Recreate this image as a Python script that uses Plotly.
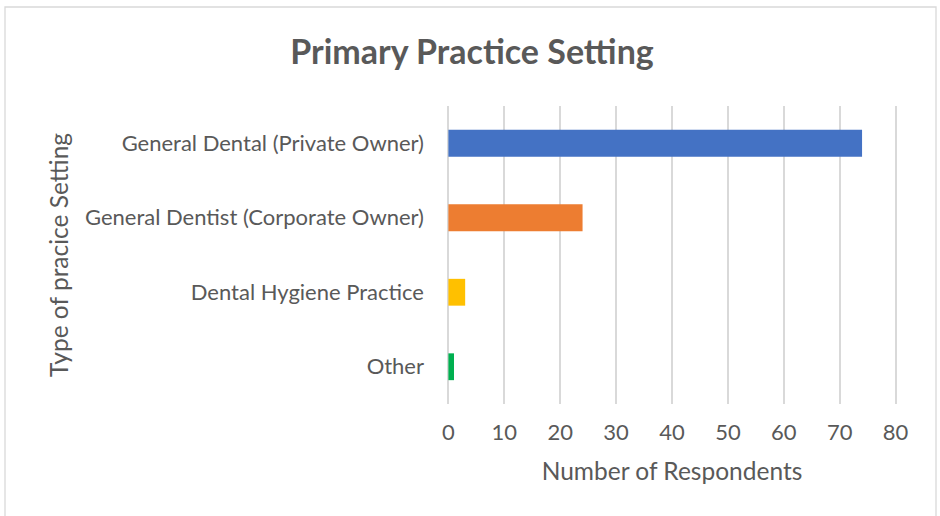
import plotly.graph_objects as go

categories = ["General Dental (Private Owner)", "General Dentist (Corporate Owner)",
              "Dental Hygiene Practice", "Other"]
values = [74, 24, 3, 1]
colors = ["#4472C4", "#ED7D31", "#FFC000", "#00B050"]
x_ticks = [0, 10, 20, 30, 40, 50, 60, 70, 80]

FONT = "Lato"
GREY = "#595959"

fig = go.Figure(go.Bar(
    x=values, y=categories, orientation="h",
    marker=dict(color=colors, line=dict(width=0)),
    width=0.36,
))

fig.update_layout(
    width=940, height=516,
    margin=dict(l=447, r=43, t=106, b=112, autoexpand=False),
    paper_bgcolor="white", plot_bgcolor="white",
    font=dict(family=FONT, color=GREY, size=22),
    showlegend=False,
    title=dict(text="<b>Primary Practice Setting</b>", x=472/940, xanchor="center",
               y=1 - 52/516, yanchor="middle",
               font=dict(family=FONT, size=34, color=GREY)),
    xaxis=dict(range=[-0.25, 80.25], tickvals=x_ticks, showgrid=True, gridcolor="#d9d9d9",
               gridwidth=1.5, zeroline=False, showline=False, ticks="",
               ticklabelstandoff=13,
               title=dict(text="Number of Respondents", standoff=18,
                          font=dict(size=24.5, color=GREY))),
    yaxis=dict(range=[3.5, -0.5], showgrid=False, zeroline=False, showline=False,
               ticks="", ticklabelstandoff=22,
               title=dict(text="Type of pracice Setting", standoff=9,
                          font=dict(size=24.5, color=GREY))),
    shapes=[dict(type="rect", xref="paper", yref="paper",
                 x0=(5 - 447) / 450, x1=(936 - 447) / 450,
                 y0=(404 - 530) / 298, y1=(404 - 7) / 298,
                 line=dict(color="#d9d9d9", width=1.3), layer="below")],
)

fig.write_html("out.html", config={"displayModeBar": False},
               post_script="document.body.style.margin='0';document.body.style.overflow='hidden';")
